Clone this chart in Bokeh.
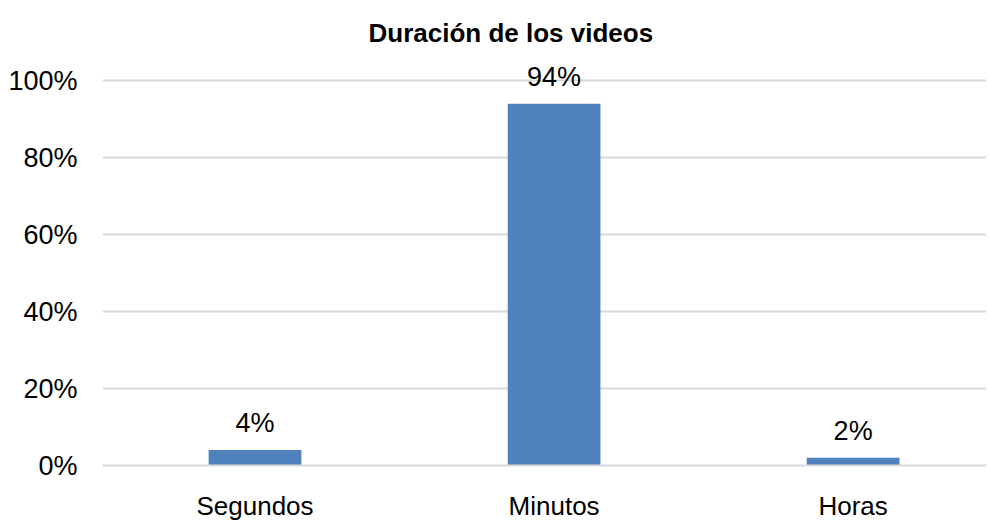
from bokeh.plotting import figure
from bokeh.models import Range1d, FixedTicker, NumeralTickFormatter, ColumnDataSource, LabelSet
from bokeh.core.properties import value
from bokeh.embed import file_html
from bokeh.resources import INLINE

categories = ["Segundos", "Minutos", "Horas"]
values = [0.04, 0.94, 0.02]
value_labels = ["4%", "94%", "2%"]
y_ticks = [0, 0.2, 0.4, 0.6, 0.8, 1.0]

FONT = "Liberation Sans"

xs = [i + 0.5 for i in range(len(categories))]
src = ColumnDataSource(dict(x=xs, top=values, lbl=value_labels))

p = figure(frame_width=884, frame_height=404, output_backend="svg", toolbar_location=None,
           x_range=Range1d(-0.01, 2.946), y_range=Range1d(0, 1.05),
           min_border_left=102, min_border_right=0, min_border_top=61, min_border_bottom=54,
           title="Duración de los videos")
p.outline_line_color = None
p.background_fill_color = "white"
p.border_fill_color = "white"

p.title.align = "left"
p.title.text_font = FONT
p.title.text_font_style = "bold"
p.title.text_font_size = "26px"
p.title.text_color = "#000000"
p.title.standoff = 28
p.title.offset = 266

p.vbar(x="x", top="top", width=0.31, source=src, fill_color="#4F81BD", line_color=None)

labels = LabelSet(x="x", y="top", text="lbl", source=src, text_align="center",
                  text_baseline="bottom", y_offset=12, text_font=value(FONT),
                  text_font_size=value("27px"), text_color="#000000")
p.add_layout(labels)

p.xaxis.ticker = FixedTicker(ticks=xs)
p.xaxis.major_label_overrides = {x: c for x, c in zip(xs, categories)}
p.xaxis.major_tick_line_color = None
p.xaxis.minor_tick_line_color = None
p.xaxis.axis_line_color = "#D9D9D9"
p.xaxis.axis_line_width = 2
p.xaxis.major_label_text_font = FONT
p.xaxis.major_label_text_font_size = "26px"
p.xaxis.major_label_text_color = "#000000"
p.xaxis.major_label_standoff = 19

p.yaxis.ticker = FixedTicker(ticks=y_ticks)
p.yaxis.formatter = NumeralTickFormatter(format="0%")
p.yaxis.major_tick_line_color = None
p.yaxis.minor_tick_line_color = None
p.yaxis.axis_line_color = None
p.yaxis.major_label_text_font = FONT
p.yaxis.major_label_text_font_size = "27px"
p.yaxis.major_label_text_color = "#000000"
p.yaxis.major_label_standoff = 19

p.xgrid.grid_line_color = None
p.ygrid.grid_line_color = "#D9D9D9"
p.ygrid.grid_line_width = 2
p.ygrid.ticker = FixedTicker(ticks=y_ticks)

open("out.html", "w").write(file_html(p, INLINE))
